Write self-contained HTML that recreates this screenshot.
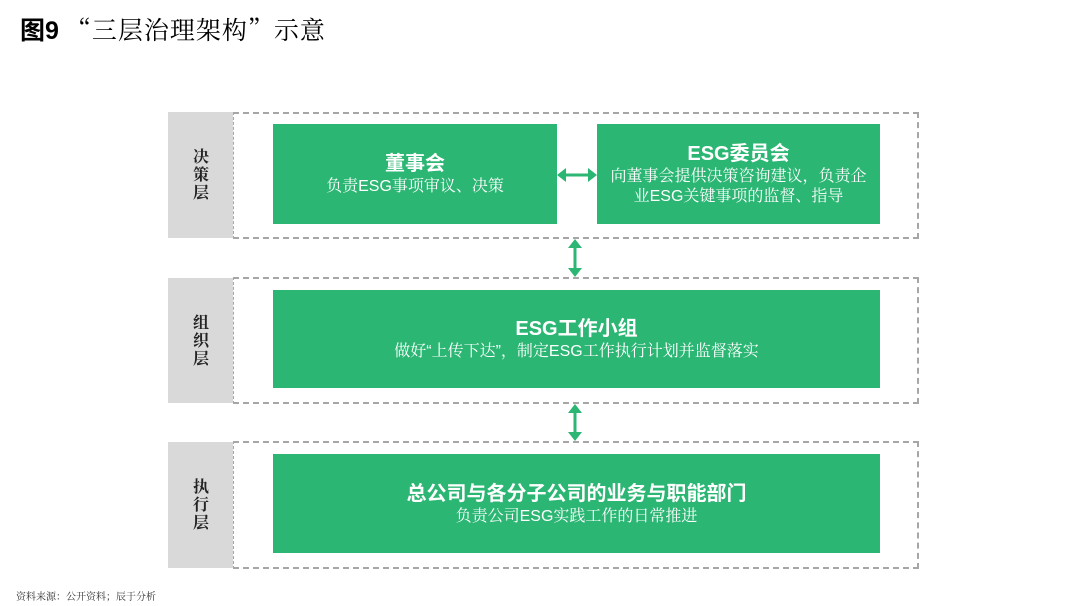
<!DOCTYPE html>
<html><head><meta charset="utf-8"><style>
body{margin:0;width:1080px;height:606px;background:#fff;position:relative;overflow:hidden;font-family:"Liberation Sans","Noto Serif CJK SC","Noto Sans CJK SC",serif;}
.a{position:absolute;}
.lab{background:#d9d9d9;width:65px;left:168px;display:flex;align-items:center;justify-content:center;font-size:16px;line-height:22px;color:#222;writing-mode:vertical-rl;letter-spacing:2px;font-weight:bold;font-family:"Noto Serif CJK SC",serif}
.dash{left:233px;width:686px;border:2px dashed #a6a6a6;box-sizing:border-box;border-left:1.5px dashed #a6a6a6}
.g{background:#2bb673;color:#fff;display:flex;flex-direction:column;align-items:center;justify-content:center;text-align:center;font-size:16px;line-height:20px;font-family:"Liberation Sans","Noto Serif CJK SC",serif}
.g b{font-size:20px;line-height:26px;font-family:"Liberation Sans","Noto Sans CJK SC",sans-serif}
</style></head><body>
<div class="a" style="left:20px;top:11px;font-size:25px;font-weight:bold;font-family:'Liberation Sans','Noto Sans CJK SC',sans-serif">图9 <span style="font-weight:normal;font-family:'Noto Serif CJK SC',serif;letter-spacing:1px">“三层治理架构”示意</span></div>

<div class="a lab" style="top:112px;height:126px">决策层</div>
<div class="a dash" style="top:112px;height:127px"></div>
<div class="a lab" style="top:278px;height:125px">组织层</div>
<div class="a dash" style="top:277px;height:127px"></div>
<div class="a lab" style="top:442px;height:126px">执行层</div>
<div class="a dash" style="top:441px;height:128px"></div>

<div class="a g" style="left:273px;top:124px;width:284px;height:100px"><b>董事会</b>负责ESG事项审议、决策</div>
<div class="a g" style="left:597px;top:124px;width:283px;height:100px;padding:0 8px;box-sizing:border-box"><b>ESG委员会</b>向董事会提供决策咨询建议，负责企业ESG关键事项的监督、指导</div>
<div class="a g" style="left:273px;top:290px;width:607px;height:98px"><b>ESG工作小组</b>做好“上传下达”，制定ESG工作执行计划并监督落实</div>
<div class="a g" style="left:273px;top:454px;width:607px;height:99px"><b>总公司与各分子公司的业务与职能部门</b>负责公司ESG实践工作的日常推进</div>

<svg class="a" style="left:0;top:0" width="1080" height="606">
<g fill="#2bb673" stroke="#2bb673" stroke-width="3">
<line x1="563" y1="175" x2="591" y2="175"/>
<polygon points="557,175 566,168 566,182" stroke="none"/>
<polygon points="597,175 588,168 588,182" stroke="none"/>
<line x1="575" y1="246" x2="575" y2="270"/>
<polygon points="575,239 568,248 582,248" stroke="none"/>
<polygon points="575,277 568,268 582,268" stroke="none"/>
<line x1="575" y1="411" x2="575" y2="434"/>
<polygon points="575,404 568,413 582,413" stroke="none"/>
<polygon points="575,441 568,432 582,432" stroke="none"/>
</g></svg>
<div class="a" style="left:16px;top:588px;font-size:10px;color:#333;font-family:'Noto Serif CJK SC',serif">资料来源：公开资料；辰于分析</div>
</body></html>
